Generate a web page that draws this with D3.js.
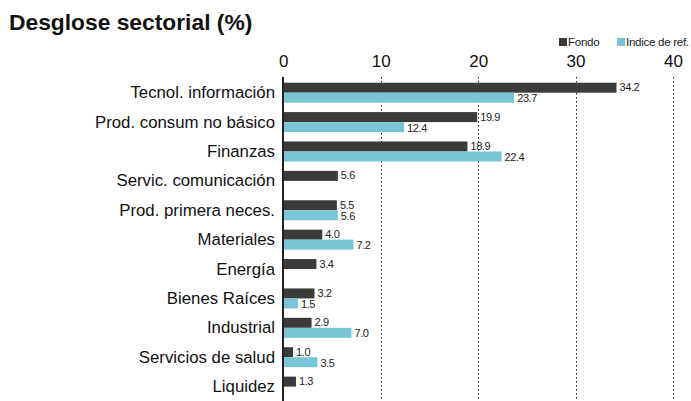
<!DOCTYPE html>
<html><head><meta charset="utf-8">
<script src="https://cdn.jsdelivr.net/npm/d3@7/dist/d3.min.js"></script>
<style>
html,body{margin:0;padding:0;background:#fff;}
svg{display:block;font-family:"Liberation Sans",Arial,sans-serif;}
</style></head>
<body><svg id="chart" width="691" height="401"></svg>
<script>
const categories = ["Tecnol. información","Prod. consum no básico","Finanzas","Servic. comunicación","Prod. primera neces.","Materiales","Energía","Bienes Raíces","Industrial","Servicios de salud","Liquidez"];
const fondo = [34.2,19.9,18.9,5.6,5.5,4.0,3.4,3.2,2.9,1.0,1.3];
const indice = [23.7,12.4,22.4,null,5.6,7.2,null,1.5,7.0,3.5,null];
const seriesNames = ["Fondo","Indice de ref."];
const colors = ["#3b3b39","#77c5d5"];
const ticks = [0,10,20,30,40];

const svg = d3.select("#chart");
const x = d3.scaleLinear().domain([0,40]).range([283.3,673]);
const y = d3.scaleBand().domain(categories).range([73.3,406]).paddingInner(0.32).paddingOuter(0.32);
const sub = d3.scaleBand().domain([0,1]).range([0,y.bandwidth()]);

svg.append("text").attr("x",9).attr("y",30).attr("font-size",22.8).attr("font-weight","bold")
  .attr("fill","#111").text("Desglose sectorial (%)");

// axis ticks
const axis = d3.axisTop(x).tickValues(ticks).tickSize(0).tickPadding(0).tickFormat(d3.format("d"));
const gA = svg.append("g").attr("transform","translate(0,67)").call(axis);
gA.select(".domain").remove();
gA.selectAll("text").attr("font-size",17).attr("fill","#111").attr("font-family","Liberation Sans, Arial, sans-serif").attr("dy",0);

// gridlines
svg.append("g").selectAll("line").data(ticks.filter(t=>t>0)).join("line")
  .attr("x1",d=>Math.round(x(d))+0.5).attr("x2",d=>Math.round(x(d))+0.5)
  .attr("y1",77).attr("y2",401).attr("stroke","#222").attr("stroke-width",1).attr("stroke-dasharray","1.5,2.5");

// legend
const leg = svg.append("g");
const legItems = [{n:seriesNames[0],c:colors[0],x:559},{n:seriesNames[1],c:colors[1],x:617}];
legItems.forEach(it=>{
  leg.append("rect").attr("x",it.x).attr("y",38).attr("width",8).attr("height",8).attr("fill",it.c);
  leg.append("text").attr("x",it.x+9).attr("y",46).attr("font-size",11.6).attr("letter-spacing",-0.3).attr("fill","#222").text(it.n);
});

const series = [fondo, indice];
series.forEach((vals,si)=>{
  const data = categories.map((c,i)=>({c,v:vals[i]})).filter(d=>d.v!=null);
  const g = svg.append("g");
  g.selectAll("rect").data(data).join("rect")
    .attr("x",x(0)).attr("y",d=>y(d.c)+sub(si))
    .attr("width",d=>x(d.v)-x(0)).attr("height",sub.bandwidth())
    .attr("fill",colors[si]);
  g.selectAll("text").data(data).join("text")
    .attr("x",d=>x(d.v)+3).attr("y",d=>y(d.c)+sub(si)+sub.bandwidth()/2+(si===0?3.5:4.5))
    .attr("font-size",11).attr("letter-spacing",-0.4).attr("fill","#222")
    .text(d=>d.v.toFixed(1));
});

// category labels
svg.append("g").selectAll("text").data(categories).join("text")
  .attr("x",275).attr("y",d=>y(d)+y.bandwidth()/2+5.5)
  .attr("text-anchor","end").attr("font-size",16.8).attr("fill","#111").text(d=>d);

// axis line
svg.append("line").attr("x1",283).attr("x2",283).attr("y1",77).attr("y2",401).attr("stroke","#222").attr("stroke-width",2);
</script></body></html>
